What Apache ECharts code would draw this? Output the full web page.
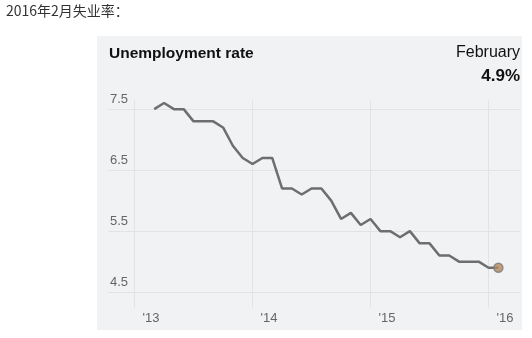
<!DOCTYPE html>
<html>
<head>
<meta charset="utf-8">
<script src="https://cdn.jsdelivr.net/npm/echarts@6/dist/echarts.min.js"></script>
<style>
html,body{margin:0;padding:0;background:#fff;}
#c{width:532px;height:338px;}
</style>
</head>
<body>
<div id="c"></div>
<script>
// Month labels (Mar 2013 – Feb 2016)
var months = ['2013-03','2013-04','2013-05','2013-06','2013-07','2013-08','2013-09','2013-10','2013-11','2013-12',
  '2014-01','2014-02','2014-03','2014-04','2014-05','2014-06','2014-07','2014-08','2014-09','2014-10','2014-11','2014-12',
  '2015-01','2015-02','2015-03','2015-04','2015-05','2015-06','2015-07','2015-08','2015-09','2015-10','2015-11','2015-12',
  '2016-01','2016-02'];
// Unemployment rate, %
var rates = [7.5,7.6,7.5,7.5,7.3,7.3,7.3,7.2,6.9,6.7,
  6.6,6.7,6.7,6.2,6.2,6.1,6.2,6.2,6.0,5.7,5.8,5.6,
  5.7,5.5,5.5,5.4,5.5,5.3,5.3,5.1,5.1,5.0,5.0,5.0,
  4.9,4.9];
var yTicks = [4.5,5.5,6.5,7.5];
var yearTicks = ['2013-01','2014-01','2015-01','2016-01'];
var yearLabels = ["'13","'14","'15","'16"];

function monthIndex(s){ var p=s.split('-'); return (parseInt(p[0])-2013)*12 + parseInt(p[1])-1; }
var seriesData = months.map(function(m,i){ return [monthIndex(m), rates[i]]; });
var yearIdx = yearTicks.map(monthIndex);
var last = seriesData[seriesData.length-1];

var gridColor = '#e1e3e6';
var chart = echarts.init(document.getElementById('c'), null, {renderer:'canvas'});
chart.setOption({
  animation:false,
  backgroundColor:'#ffffff',
  graphic:[
    {type:'rect', shape:{x:97,y:36,width:425,height:294}, style:{fill:'#f1f2f4'}, z:-10, silent:true},
    {type:'text', left:6, top:4, style:{text:'2016年2月失业率：', font:'14px "Noto Sans CJK SC"', fill:'#333'}},
    {type:'text', left:109, top:46, style:{text:'Unemployment rate', font:'bold 15.5px "Liberation Sans"', fill:'#111'}},
    {type:'text', right:12, top:45, style:{text:'February', font:'16px "Liberation Sans"', fill:'#111', textAlign:'right'}},
    {type:'text', right:12, top:68, style:{text:'4.9%', font:'bold 17px "Liberation Sans"', fill:'#111', textAlign:'right'}}
  ],
  grid:{left:108, right:12, top:100, bottom:30},
  xAxis:{
    type:'value', min:-2.7, max:39.2,
    axisLine:{show:false}, axisTick:{show:false}, splitLine:{show:false},
    axisLabel:{
      customValues: yearIdx,
      formatter:function(v){ var k=yearIdx.indexOf(v); return k>=0?yearLabels[k]:''; },
      color:'#666', fontSize:13, fontFamily:'Liberation Sans',
      align:'left', padding:[0,0,0,8], margin:4
    }
  },
  yAxis:{
    type:'value', min:4.24, max:7.65,
    axisLine:{show:false}, axisTick:{show:false}, splitLine:{show:false},
    axisLabel:{show:false}
  },
  series:[
    {
      type:'line', data:seriesData, symbol:'none',
      lineStyle:{color:'#6e6e6e', width:2.5},
      markLine:{
        silent:true, symbol:'none', z:1, animation:false,
        lineStyle:{color:gridColor, type:'solid', width:1},
        data: yTicks.map(function(v){ return {yAxis:v, label:{show:true, position:'insideStartTop', formatter:String(v), color:'#666', fontSize:13, fontFamily:'Liberation Sans', distance:[2,3]}}; })
          .concat(yearIdx.map(function(v){ return {xAxis:v, label:{show:false}}; }))
      }
    },
    {
      type:'scatter', data:[last], symbol:'circle', symbolSize:9,
      itemStyle:{color:'#b58a5e', borderColor:'#7a7a7a', borderWidth:1.5}, z:5
    }
  ]
});
</script>
</body>
</html>
